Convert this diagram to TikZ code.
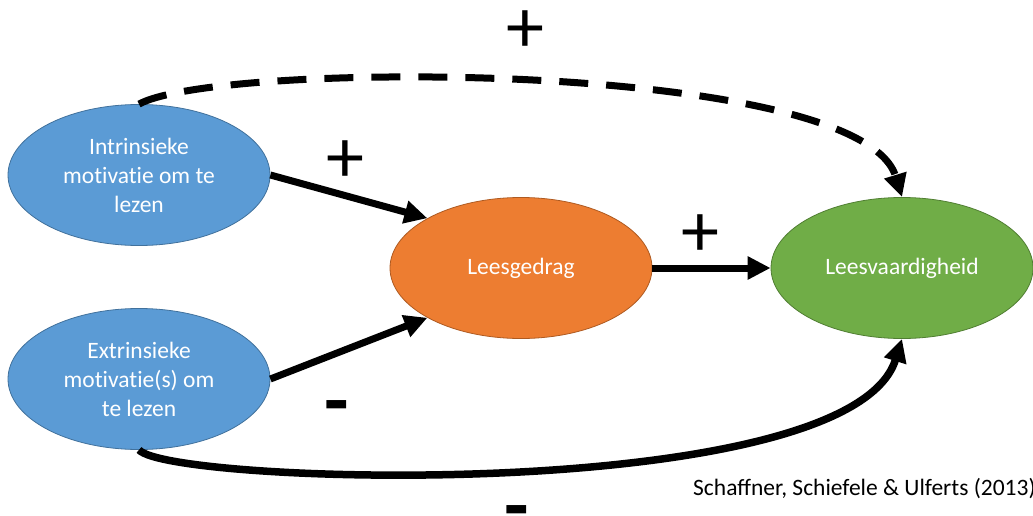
\documentclass[tikz,border=0pt]{standalone}
\usepackage{fontspec}
\setmainfont{Carlito}[Ligatures={NoCommon}]
\newfontfamily\citefont{Carlito}
\usetikzlibrary{shapes.geometric,arrows.meta}
\definecolor{bluef}{HTML}{5B9BD5}
\definecolor{blued}{HTML}{41719C}
\definecolor{orangef}{HTML}{ED7D31}
\definecolor{oranged}{HTML}{AE5A21}
\definecolor{greenf}{HTML}{70AD47}
\definecolor{greend}{HTML}{507E32}
\tikzset{
  oval/.style={ellipse, minimum width=262pt, minimum height=141pt, inner sep=0pt, line width=0.8pt,
    text=white, align=center, font=\fontsize{23.5}{29}\selectfont},
  conn/.style={line width=7pt, -{Triangle[length=23pt,width=22pt]}},
  plus/.style={font=\fontsize{76}{76}\selectfont, inner sep=0pt},
  minus/.style={font=\bfseries\fontsize{80}{80}\selectfont, inner sep=0pt, anchor=base},
}
\begin{document}
\begin{tikzpicture}[x=1pt,y=-1pt]
\useasboundingbox (0,0) rectangle (1033,516);
\clip (0,0) rectangle (1033,516);
\node[oval, fill=bluef, draw=blued] (i) at (139,175) {Intrinsieke\\motivatie om te\\lezen};
\node[oval, fill=bluef, draw=blued] (e) at (139,379) {Extrinsieke\\motivatie(s) om\\te lezen};
\node[oval, fill=orangef, draw=oranged] (l) at (521,268) {Leesgedrag};
\node[oval, fill=greenf, draw=greend] (v) at (902,268) {Leesvaardigheid};

\draw[conn] (i.east) -- (l.152);
\draw[conn] (e.east) -- (l.208);
\draw[conn] (l.east) -- (v.west);
\draw[conn, dash pattern=on 29pt off 18pt] (i.north) .. controls (220,60) and (860,60) .. (v.north);
\draw[conn, line width=7.5pt] (e.south) .. controls (170,485) and (850,505) .. (v.south);

\node[plus] (p1) at (525,32) {+};
\node[plus] (p2) at (345,162) {+};
\node[plus] (p3) at (700,236) {+};
\node[minus] (m1) at (337,427) {-};
\node[minus] (m2) at (517,532) {-};
\node[anchor=west, font=\citefont\fontsize{23.5}{28}\selectfont, inner sep=0pt] (cite) at (693,489) {Schaffner, Schiefele \& Ulferts (2013)};
\end{tikzpicture}
\end{document}
